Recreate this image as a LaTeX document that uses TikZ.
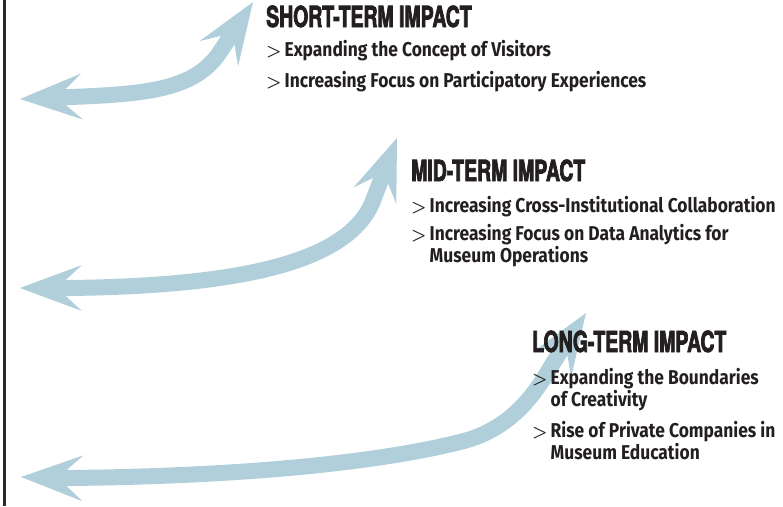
\documentclass[tikz,border=0pt]{standalone}
\usepackage{fontspec}
\setmainfont{Fira Sans}[FakeStretch=0.87]
\newfontfamily\headfont{TeX Gyre Heros}[FakeStretch=0.67,FakeBold=2.5]
\usetikzlibrary{arrows.meta,positioning}
\definecolor{arrowblue}{HTML}{B1CFDA}
\definecolor{inkblack}{HTML}{231F20}
\newcommand{\impactpoint}[1]{{\boldmath\fontsize{17}{20}\selectfont$>$}\hspace{3pt}\begin{tabular}[t]{@{}l@{}}#1\end{tabular}}
\tikzset{
  %Define standard arrow tip
  >={Stealth[length=62pt,width=46pt,inset=25pt,line width=0pt]},
  % Define style for the wide arrows
  impact arrow/.style={
    <->,
    draw=arrowblue,
    line width=16pt,
    line join=round},
  % Define styles for the texts
  heading/.style={
    anchor=base west,
    inner sep=0pt,
    text=inkblack,
    font=\headfont\bfseries\fontsize{29}{32}\selectfont},
  point/.style={
    anchor=base west,
    inner sep=0pt,
    text=inkblack,
    font=\bfseries\fontsize{20}{22.5}\selectfont}
}
\begin{document}
\begin{tikzpicture}[x=1pt,y=-1pt]
  \useasboundingbox (0,0) rectangle (783,506);
  \draw[draw=inkblack!95,line width=3pt] (4.5,0) -- (4.5,506);
  % arrows
  \coordinate (shortL) at (20,99);
  \coordinate (shortR) at (253,2);
  \coordinate (midL) at (20,288);
  \coordinate (midR) at (397,138);
  \coordinate (longL) at (21,477);
  \coordinate (longR) at (586,313);
  \draw[impact arrow] (shortL) -- (70,97) .. controls (150,94) and (195,89) .. (220,52) -- (shortR);
  \draw[impact arrow] (midL) -- (70,288) .. controls (220,286) and (350,268) .. (374,198) -- (midR);
  \draw[impact arrow] (longL) -- (70,478) .. controls (250,476) and (380,462) .. (460,442)
    .. controls (510,430) and (535,395) .. (553,363) -- (longR);
  % short-term
  \node[heading] (shortHead) at (266,27) {SHORT-TERM IMPACT};
  \node[point,below=29pt of shortHead.base west,anchor=base west] (short1)
    {\impactpoint{Expanding the Concept of Visitors}};
  \node[point,below=31pt of short1.base west,anchor=base west] (short2)
    {\impactpoint{Increasing Focus on Participatory Experiences}};
  % mid-term
  \node[heading] (midHead) at (411,181) {MID-TERM IMPACT};
  \node[point,below=31pt of midHead.base west,anchor=base west] (mid1)
    {\impactpoint{Increasing Cross-Institutional Collaboration}};
  \node[point,below=28pt of mid1.base west,anchor=base west] (mid2)
    {\impactpoint{Increasing Focus on Data Analytics for\\Museum Operations}};
  % long-term
  \node[heading] (longHead) at (532,352) {LONG-TERM IMPACT};
  \node[point,below=32pt of longHead.base west,anchor=base west] (long1)
    {\impactpoint{Expanding the Boundaries\\of Creativity}};
  \node[point,below=53pt of long1.base west,anchor=base west] (long2)
    {\impactpoint{Rise of Private Companies in\\Museum Education}};
\end{tikzpicture}
\end{document}
